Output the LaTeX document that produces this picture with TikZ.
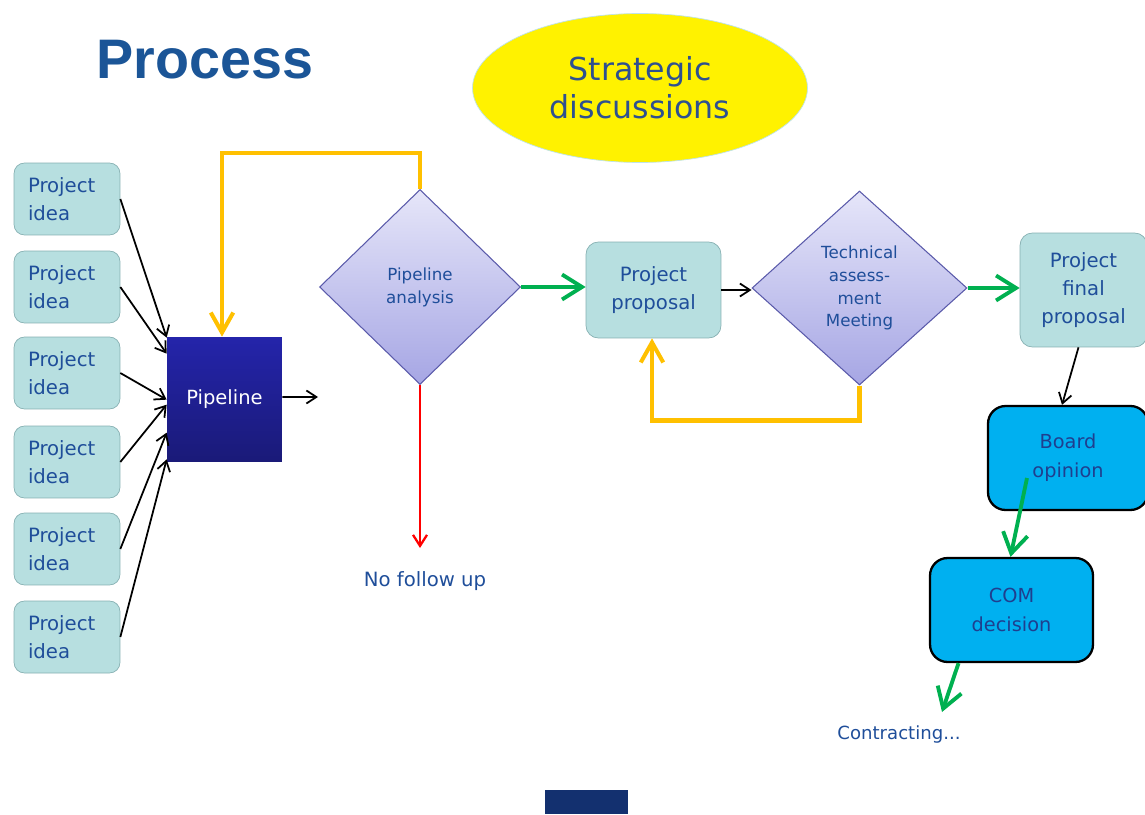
\documentclass[tikz,border=0pt]{standalone}
\usepackage{fontspec}
\setmainfont{DejaVu Sans}
\newfontfamily\titlefont{Liberation Sans}
\usetikzlibrary{shapes.geometric, arrows.meta}

\definecolor{ideaFill}{HTML}{B7DFE0}
\definecolor{ideaDraw}{HTML}{86B0B2}
\definecolor{txtBlue}{HTML}{1F4E9A}
\definecolor{titleBlue}{HTML}{1B5597}
\definecolor{pipeTop}{HTML}{2424AA}
\definecolor{pipeBot}{HTML}{1A1A78}
\definecolor{diaTop}{HTML}{E6E6F9}
\definecolor{diaBot}{HTML}{A6A6E4}
\definecolor{diaDraw}{HTML}{5A5AAA}
\definecolor{loopOrange}{HTML}{FFC000}
\definecolor{goGreen}{HTML}{00B050}
\definecolor{stopRed}{HTML}{FF0000}
\definecolor{boardFill}{HTML}{00B0F0}
\definecolor{boardTxt}{HTML}{1F3F8F}
\definecolor{ellTxt}{HTML}{2E5090}
\definecolor{ellDraw}{HTML}{BFE3EA}
\definecolor{navyBar}{HTML}{13306F}

\tikzset{
  ideabox/.style={draw=ideaDraw, fill=ideaFill, rounded corners=6pt, text width=1.56cm, inner xsep=0.28cm,
    minimum height=1.44cm, align=left, text=txtBlue, font=\fontsize{11.2}{16}\selectfont},
  propbox/.style={draw=ideaDraw, fill=ideaFill, rounded corners=7pt, align=center, text=txtBlue,
    inner sep=0pt, font=\fontsize{11.2}{16}\selectfont},
  decision/.style={diamond, draw=diaDraw, line width=0.6pt, top color=diaTop, bottom color=diaBot, inner sep=0pt,
    align=center, text=txtBlue, font=\fontsize{9.5}{13}\selectfont},
  bluebox/.style={draw=black, line width=1.3pt, fill=boardFill, rounded corners=10pt, align=center, inner sep=0pt,
    text=boardTxt, font=\fontsize{11}{16.5}\selectfont},
  plainarrow/.style={line width=1pt, -{Straight Barb[length=2mm,width=2.6mm]}},
  greenarrow/.style={draw=goGreen, line width=2.2pt, -{Straight Barb[length=4mm,width=5mm]}},
  looparrow/.style={draw=loopOrange, line width=2.3pt, -{Straight Barb[length=4mm,width=4.5mm]}},
  redarrow/.style={draw=stopRed, line width=1.3pt, -{Straight Barb[length=2.2mm,width=2.8mm]}},
  note/.style={text=txtBlue, font=\fontsize{11.2}{14}\selectfont}
}

\begin{document}
\begin{tikzpicture}[x=0.02cm, y=-0.02cm]

\useasboundingbox (0,0) rectangle (1145,814);

% Define coordinates
\coordinate (pipeOut) at (318,397);
\coordinate (noFollowEnd) at (420,548);
\coordinate (boardOut) at (1027,478);
\coordinate (contractEnd) at (942,712);

% Title and strategic discussions
\node[font=\titlefont\bfseries\fontsize{31.7}{36}\selectfont, text=titleBlue] (title) at (205,60) {Process};
\node[ellipse, fill=yellow, draw=ellDraw, minimum width=6.7cm, minimum height=2.98cm, align=center,
  text=ellTxt, font=\fontsize{18}{21.6}\selectfont] (strategic) at (640,88) {Strategic\\discussions};

% Project ideas
\foreach \i/\y in {1/199, 2/287, 3/373, 4/462, 5/549, 6/637}
  \node[ideabox] (idea\i) at (67,\y) {Project\\idea};

% Pipeline
\node[top color=pipeTop, bottom color=pipeBot, minimum width=2.3cm, minimum height=2.5cm, text=white,
  font=\fontsize{11.1}{14}\selectfont] (pipeline) at (224.5,399.5) {Pipeline\hspace{0.1cm}};

% Decisions
\node[decision, minimum width=4.02cm, minimum height=3.9cm] (panalysis) at (420,287) {Pipeline\\analysis};
\node[decision, minimum width=4.3cm, minimum height=3.88cm] (tam) at (859.5,288) {Technical\\assess-\\ment\\Meeting};

% Proposals
\node[propbox, minimum width=2.7cm, minimum height=1.92cm] (proposal) at (653.5,290) {Project\\proposal};
\node[propbox, minimum width=2.54cm, minimum height=2.28cm] (final) at (1083.5,290) {Project\\final\\proposal};

% Board and COM
\node[bluebox, minimum width=3.2cm, minimum height=2.08cm] (board) at (1068,458) {Board\\opinion};
\node[bluebox, minimum width=3.26cm, minimum height=2.08cm] (com) at (1011.5,610) {COM\\decision};

% Texts
\node[note] (nofollow) at (425,581) {No follow up};
\node[note, font=\fontsize{10.3}{13}\selectfont] (contract) at (899,734) {Contracting...};

% Ideas into pipeline
\draw[plainarrow] (idea1.east) -- ([yshift=-0.02cm]pipeline.north west);
\draw[plainarrow] (idea2.east) -- ([yshift=-0.34cm]pipeline.north west);
\draw[plainarrow] (idea3.east) -- ([yshift=-1.26cm]pipeline.north west);
\draw[plainarrow] (idea4.east) -- ([yshift=-1.36cm]pipeline.north west);
\draw[plainarrow] (idea5.east) -- ([yshift=-1.92cm]pipeline.north west);
\draw[plainarrow] (idea6.east) -- ([yshift=0.06cm]pipeline.south west);
\draw[plainarrow] ([yshift=0.05cm]pipeline.east) -- (pipeOut);

% Loops back
\draw[looparrow] (panalysis.north) -- ++(0,-36) -| ([xshift=-0.05cm]pipeline.north);
\draw[looparrow] (tam.south) -- ++(0,35) -| ([xshift=-0.03cm]proposal.south);

% Main flow
\draw[greenarrow] (panalysis.east) -- (panalysis.east -| proposal.west);
\draw[plainarrow] (proposal.east) -- (proposal.east -| tam.west);
\draw[greenarrow] (tam.east) -- (tam.east -| final.west);
\draw[redarrow] (panalysis.south) -- (noFollowEnd);
\draw[plainarrow] ([xshift=-0.1cm]final.south) -- ([xshift=-0.12cm]board.north);
\draw[greenarrow] (boardOut) -- ([xshift=-0.02cm]com.north);
\draw[greenarrow] ([xshift=-1.06cm]com.south) -- (contractEnd);

% Footer bar
\fill[navyBar] (545,790) rectangle (628,814);

\end{tikzpicture}
\end{document}
